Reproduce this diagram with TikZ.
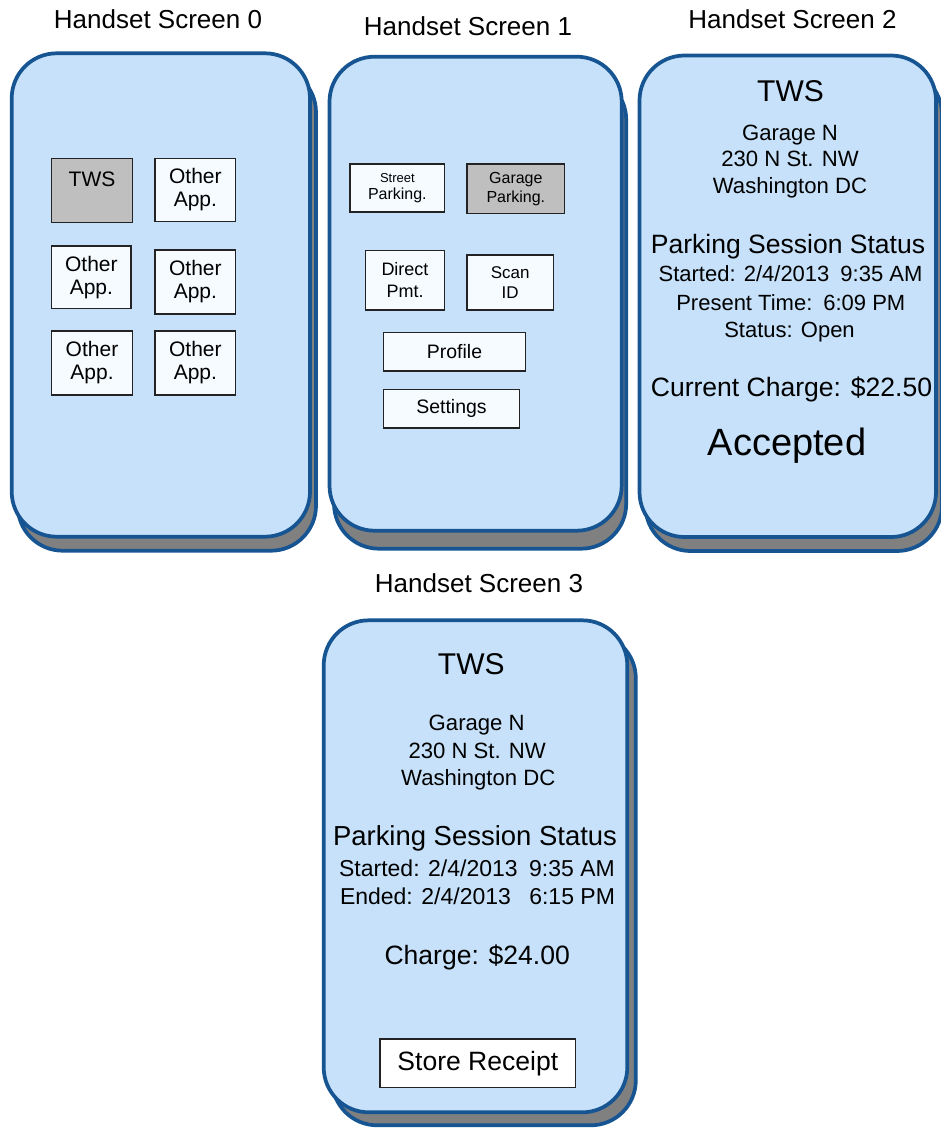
\documentclass[tikz,border=0pt]{standalone}
\usepackage{fontspec}
\setmainfont{Liberation Sans}
\usetikzlibrary{fit}
\definecolor{phoneblue}{RGB}{22,84,146}
\definecolor{screenfill}{RGB}{198,225,249}
\definecolor{shadowgray}{RGB}{128,128,128}
\definecolor{btnfill}{RGB}{246,251,255}
\definecolor{btngray}{RGB}{191,191,191}
\definecolor{btnline}{RGB}{35,35,35}
\begin{document}
\begin{tikzpicture}[x=0.75pt,y=-0.75pt,
  phoneshadow/.style={draw=phoneblue, line width=2.8pt, fill=shadowgray, rounded corners=33.75pt, inner sep=0pt},
  phonefront/.style={draw=phoneblue, line width=2.8pt, fill=screenfill, rounded corners=33.75pt, inner sep=0pt},
  btn/.style={draw=btnline, line width=0.8pt, fill=btnfill, inner sep=0pt, align=center},
  graybtn/.style={btn, fill=btngray},
  title/.style={anchor=base, inner sep=0pt, font=\fontsize{19.5}{22}\selectfont},
  txt/.style={anchor=base, inner sep=0pt},
  addr/.style={txt, font=\fontsize{16.6}{19}\selectfont},
  appfont/.style={font=\fontsize{15.75}{17.25}\selectfont}]
\useasboundingbox (0,0) rectangle (940,1128);

% ---------- Screen 0 ----------
\node[title] (t0) at (158,28) {Handset Screen 0};
\node[phoneshadow, fit={(17.7,67.3) (316,550.7)}] (s0sh) {};
\node[phonefront, fit={(11.7,53.3) (310,536.7)}] (s0) {};
\node[graybtn, appfont, minimum width=60.45pt, minimum height=48.3pt] (tws0) at (92,190.5) {TWS\\\mbox{}};
\node[btn, appfont, minimum width=60.5pt, minimum height=47.55pt] (o1) at (195.35,190) {Other\\App.};
\node[btn, appfont, minimum width=59.5pt, minimum height=46.7pt] (o2) at (91.35,277.15) {Other\\App.};
\node[btn, appfont, minimum width=60.5pt, minimum height=48pt] (o3) at (195.35,282) {Other\\App.};
\node[btn, appfont, minimum width=60.45pt, minimum height=48pt] (o4) at (92,363) {Other\\App.};
\node[btn, appfont, minimum width=60.5pt, minimum height=48pt] (o5) at (195.35,363) {Other\\App.};

% ---------- Screen 1 ----------
\node[title] (t1) at (468,35) {Handset Screen 1};
\node[phoneshadow, fit={(334,74.7) (626.2,548.7)}] (s1sh) {};
\node[phonefront, fit={(329.5,56.7) (621.7,530.7)}] (s1) {};
\node[btn, font=\fontsize{12}{13.3}\selectfont, minimum width=71pt, minimum height=36pt] (street) at (397.35,188) {{\fontsize{9.75}{11}\selectfont Street}\\Parking.};
\node[graybtn, font=\fontsize{12}{14.25}\selectfont, minimum width=73.3pt, minimum height=37.3pt] (garage) at (515.85,188.85) {Garage\\Parking.};
\node[btn, font=\fontsize{13.5}{16.5}\selectfont, minimum width=59.55pt, minimum height=44.5pt] (direct) at (405,280.35) {Direct\\Pmt.};
\node[btn, font=\fontsize{12.75}{15}\selectfont, minimum width=64.7pt, minimum height=41.25pt] (scan) at (510.15,282.5) {Scan\\ID};
\node[btn, font=\fontsize{14.6}{17}\selectfont, minimum width=106.2pt, minimum height=28.7pt] (profile) at (454.5,351.85) {Profile};
\node[btn, font=\fontsize{14.6}{17}\selectfont, minimum width=101.7pt, minimum height=29pt] (settings) at (451.5,408.65) {Settings};

% ---------- Screen 2 ----------
\node[title] (t2) at (792.5,28.3) {Handset Screen 2};
\node[phoneshadow, fit={(645.5,69.5) (942,551)}] (s2sh) {};
\node[phonefront, fit={(639.5,55.5) (936,537)}] (s2) {};
\node[txt, font=\fontsize{22.5}{26}\selectfont] (tws2) at (790.5,101.7) {TWS};
\node[addr] (g2a) at (790,140) {Garage N};
\node[addr] (g2b) at (790,166.7) {230 N St. NW};
\node[addr] (g2c) at (790,193.3) {Washington DC};
\node[txt, font=\fontsize{19.9}{23}\selectfont] (p2) at (788,253.3) {Parking Session Status};
\node[txt, font=\fontsize{16.5}{19}\selectfont] (st2) at (790.5,281.7) {Started: 2/4/2013\hspace{0.5em}9:35 AM};
\node[txt, font=\fontsize{16.5}{19}\selectfont] (pt2) at (790.8,310.7) {Present Time:\hspace{0.5em}6:09 PM};
\node[txt, font=\fontsize{16.5}{19}\selectfont] (so2) at (789.5,337.3) {Status: Open};
\node[txt, font=\fontsize{19.9}{23}\selectfont] (cc2) at (791.5,396.7) {Current Charge: \$22.50};
\node[txt, font=\fontsize{28.5}{32}\selectfont] (acc2) at (787,455) {Accepted};

% ---------- Screen 3 ----------
\node[title] (t3) at (479,592) {Handset Screen 3};
\node[phoneshadow, fit={(332.2,633.3) (635.8,1125.3)}] (s3sh) {};
\node[phonefront, fit={(323.7,620.3) (627.3,1112.3)}] (s3) {};
\node[txt, font=\fontsize{22.5}{26}\selectfont] (tws3) at (471.3,674) {TWS};
\node[addr] (g3a) at (476.7,730.7) {Garage N};
\node[addr] (g3b) at (477.2,758.3) {230 N St. NW};
\node[addr] (g3c) at (478.3,785) {Washington DC};
\node[txt, font=\fontsize{20.6}{24}\selectfont] (p3) at (475,845) {Parking Session Status};
\node[txt, font=\fontsize{17.25}{20}\selectfont] (st3) at (477,876.7) {Started: 2/4/2013\hspace{0.5em}9:35 AM};
\node[txt, font=\fontsize{17.25}{20}\selectfont] (en3) at (477.5,904.3) {Ended: 2/4/2013\hspace{0.8em}6:15 PM};
\node[txt, font=\fontsize{19.9}{23}\selectfont] (ch3) at (477.2,964) {Charge: \$24.00};
\node[btn, fill=white, font=\fontsize{19.9}{23}\selectfont, minimum width=146.8pt, minimum height=36.5pt] (store) at (477.85,1063.35) {Store Receipt};
\end{tikzpicture}
\end{document}
